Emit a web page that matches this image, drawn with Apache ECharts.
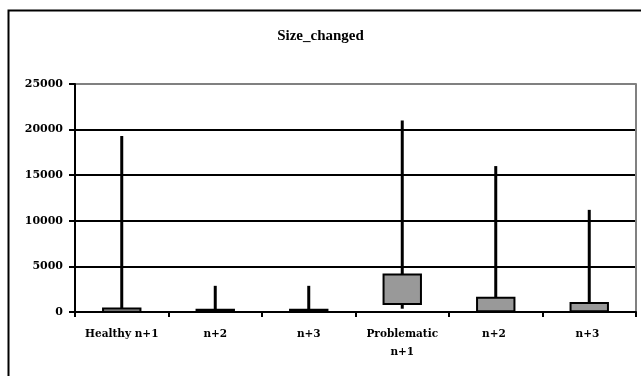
<!DOCTYPE html>
<html><head><meta charset="utf-8">
<script src="https://cdn.jsdelivr.net/npm/echarts@6/dist/echarts.min.js"></script>
<style>html,body{margin:0;padding:0;background:#fff}#c{width:641px;height:376px}</style>
</head><body><div id="c"></div>
<script>
var categories = ['Healthy n+1', 'n+2', 'n+3', 'Problematic\nn+1', 'n+2 ', 'n+3 '];
var lowValues = [0, 0, 0, 360, 80, 80];
var q1Values = [20, 20, 20, 870, 80, 80];
var q3Values = [380, 250, 250, 4100, 1560, 1000];
var highValues = [19300, 2870, 2870, 21000, 16000, 11200];
var yTicks = [0, 5000, 10000, 15000, 20000, 25000];

var data = categories.map(function (c, i) {
  return [i, lowValues[i], q1Values[i], q3Values[i], highValues[i]];
});

var chart = echarts.init(document.getElementById('c'));
var titleFont = 'Liberation Serif';
var labelFont = 'DejaVu Serif';
chart.setOption({
  animation: false,
  backgroundColor: '#fff',
  title: { text: 'Size_changed', left: 'center', top: 24,
    textStyle: { fontFamily: titleFont, fontSize: 15, fontWeight: 'bold', color: '#000' } },
  graphic: [{ type: 'rect', shape: { x: 8.5, y: 10.5, width: 700, height: 400 },
    style: { fill: 'none', stroke: '#000', lineWidth: 2 }, silent: true }],
  grid: { left: 75, right: 5, top: 84, bottom: 64 },
  xAxis: {
    type: 'category', data: categories, boundaryGap: true,
    axisLine: { lineStyle: { color: '#000', width: 2 } },
    axisTick: { show: true, length: 5, lineStyle: { color: '#000', width: 2 } },
    axisLabel: { fontFamily: labelFont, fontSize: 10.5, fontWeight: 'bold', color: '#000',
      margin: 13, lineHeight: 18, interval: 0 }
  },
  yAxis: [{
    type: 'value', min: 0, max: 25000, interval: 5000,
    axisLine: { show: true, lineStyle: { color: '#000', width: 2 } },
    axisTick: { show: true, length: 6, lineStyle: { color: '#000', width: 2 } },
    axisLabel: { fontFamily: labelFont, fontSize: 11, fontWeight: 'bold', color: '#000', margin: 12,
      formatter: function (v) { return yTicks.indexOf(v) >= 0 ? String(v) : ''; } },
    splitLine: { show: true, lineStyle: { color: ['#000', '#000', '#000', '#000', '#000', '#808080'], width: 2 } }
  }, {
    type: 'value', min: 0, max: 25000, interval: 5000, position: 'right',
    axisLine: { show: true, lineStyle: { color: '#808080', width: 2 } },
    axisTick: { show: false }, axisLabel: { show: false }, splitLine: { show: false }
  }],
  series: [{
    type: 'custom',
    data: data,
    encode: { x: 0, y: [1, 2, 3, 4] },
    renderItem: function (params, api) {
      var x = api.value(0);
      var pLow = api.coord([x, api.value(1)]);
      var pQ1 = api.coord([x, api.value(2)]);
      var pQ3 = api.coord([x, api.value(3)]);
      var pHigh = api.coord([x, api.value(4)]);
      var w = api.size([1, 0])[0] * 0.4;
      var cx = pQ1[0];
      var children = [];
      children.push({ type: 'line', shape: { x1: cx, y1: pQ3[1], x2: cx, y2: pHigh[1] },
        style: { stroke: '#000', lineWidth: 3 } });
      if (pLow[1] - pQ1[1] > 0.5) {
        children.push({ type: 'line', shape: { x1: cx, y1: pLow[1], x2: cx, y2: pQ1[1] },
          style: { stroke: '#000', lineWidth: 3 } });
      }
      children.push({ type: 'rect', shape: { x: cx - w / 2, y: pQ3[1], width: w, height: pQ1[1] - pQ3[1] },
        style: { fill: '#999999', stroke: '#000', lineWidth: 2 } });
      return { type: 'group', children: children };
    }
  }]
});
</script></body></html>
